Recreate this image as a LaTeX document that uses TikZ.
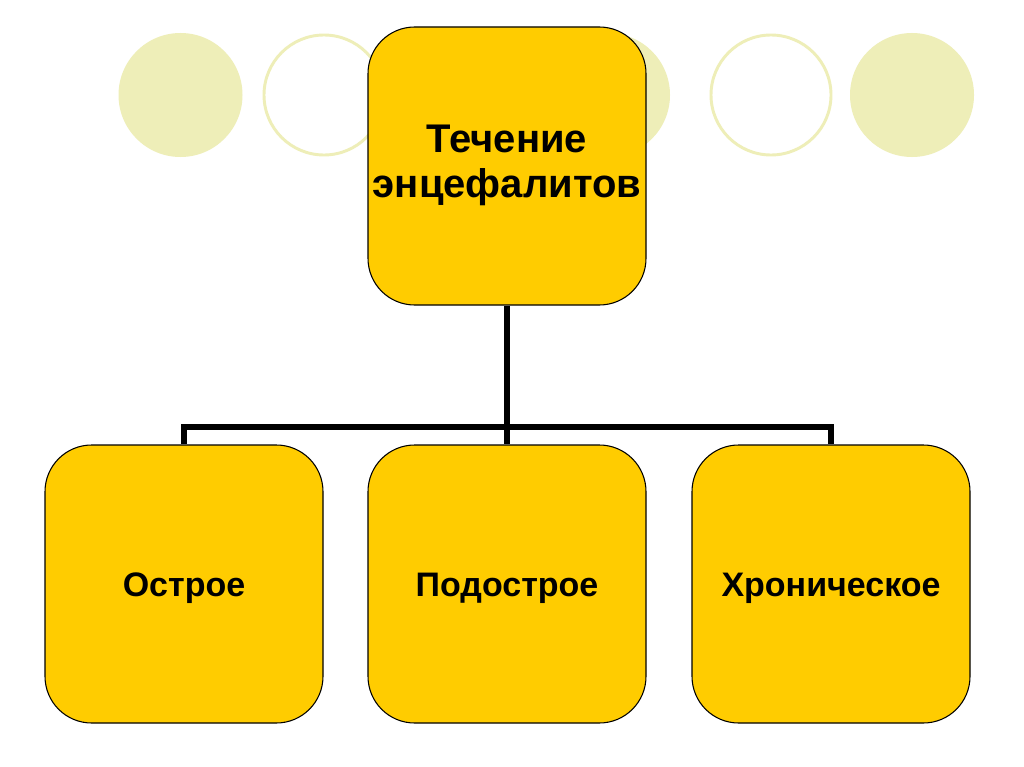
\documentclass[tikz,border=0pt]{standalone}
\usepackage{fontspec}
\setmainfont{Liberation Sans}
\definecolor{boxfill}{RGB}{255,204,0}
\definecolor{dotfill}{RGB}{238,238,184}
\begin{document}
\begin{tikzpicture}[x=0.75pt,y=-0.75pt,
  card/.style={draw=black, line width=0.8pt, fill=boxfill, rounded corners=35pt,
    minimum width=208.5pt, minimum height=208.5pt, inner sep=0pt, align=center,
    font=\fontsize{25.5}{33.75}\selectfont\bfseries},
  onelinetext/.style={text height=23pt, text depth=5pt},
  bigtext/.style={font=\fontsize{30}{34}\selectfont\bfseries},
  dotfilled/.style={fill=dotfill, draw=none},
  dotring/.style={draw=dotfill, line width=2.2pt, fill=white},
  link/.style={draw=black, line width=4pt}]
\useasboundingbox[fill=white] (0,0) rectangle (1024,767);
% decorative circles
\fill[dotfilled] (180.5,95) circle[radius=62];
\draw[dotring] (324,95) circle[radius=60];
\fill[dotfilled] (608,95) circle[radius=62];
\draw[dotring] (771,95) circle[radius=60];
\fill[dotfilled] (912,95) circle[radius=62];
% nodes
\node[card, bigtext, align=none] (top) at (507,166)
  {\raisebox{-3pt}{\begin{tabular}{@{}c@{}}Течение\\энцефалитов\end{tabular}}};
\node[card, onelinetext] (a) at (184,584) {Острое};
\node[card, onelinetext] (b) at (507,584) {Подострое};
\node[card, onelinetext] (c) at (831,584) {Хроническое};
\coordinate (j) at (507,427);
% connectors
\draw[link] (top.south) -- (j);
\draw[link] (a.north) -- (a.north |- j) -- (c.north |- j) -- (c.north);
\draw[link] (j) -- (b.north);
\end{tikzpicture}
\end{document}
